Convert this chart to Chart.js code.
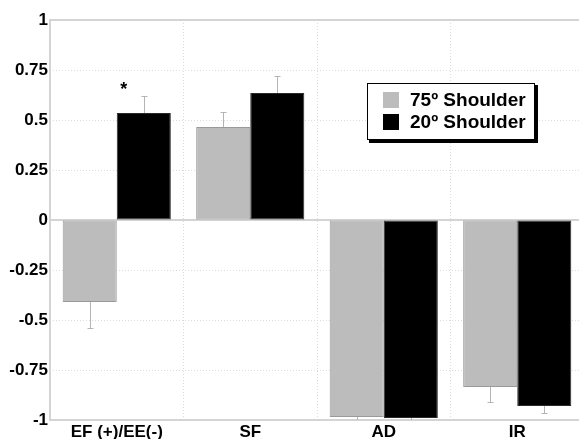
<!DOCTYPE html>
<html>
<head>
<meta charset="utf-8">
<script src="https://cdn.jsdelivr.net/npm/chart.js@4.4.0/dist/chart.umd.min.js"></script>
<style>
html,body{margin:0;padding:0;background:#fff;overflow:hidden;width:579px;height:439px;}
#wrap{width:585px;height:439px;}
</style>
</head>
<body>
<div id="wrap"><canvas id="c" width="585" height="439"></canvas></div>
<script>
const categories = ["EF (+)/EE(-)", "SF", "AD", "IR"];
const seriesLabels = ["75º Shoulder", "20º Shoulder"];
const shoulder75 = [-0.41, 0.465, -0.985, -0.835];
const shoulder20 = [0.535, 0.635, -0.99, -0.93];
const shoulder75Err = [0.13, 0.075, 0.02, 0.075];
const shoulder20Err = [0.085, 0.085, 0.01, 0.035];
const yTicks = [-1, -0.75, -0.5, -0.25, 0, 0.25, 0.5, 0.75, 1];
const significance = [{category: 0, value: 0.665, mark: "*"}];

const FONT = "'Liberation Sans', Arial, sans-serif";

const errorBarPlugin = {
  id: 'errorBars',
  afterDatasetsDraw(chart) {
    const ctx = chart.ctx;
    const y = chart.scales.y;
    const errs = [shoulder75Err, shoulder20Err];
    ctx.save();
    ctx.beginPath();
    ctx.rect(chart.chartArea.left, chart.chartArea.top - 2, chart.chartArea.width, chart.chartArea.height + 2);
    ctx.clip();
    chart.data.datasets.forEach((ds, di) => {
      const meta = chart.getDatasetMeta(di);
      meta.data.forEach((bar, i) => {
        const v = ds.data[i];
        const e = errs[di][i];
        const end = v >= 0 ? v + e : v - e;
        const x = Math.round(bar.x) + 0.5;
        const y0 = y.getPixelForValue(v);
        const y1 = y.getPixelForValue(end);
        ctx.strokeStyle = '#b4b4b4';
        ctx.lineWidth = 1;
        ctx.beginPath();
        ctx.moveTo(x, y0);
        ctx.lineTo(x, y1);
        ctx.moveTo(x - 3, Math.round(y1) + 0.5);
        ctx.lineTo(x + 3, Math.round(y1) + 0.5);
        ctx.stroke();
      });
    });
    ctx.restore();
    ctx.save();
    ctx.fillStyle = '#000';
    ctx.font = "bold 18px " + FONT;
    ctx.textAlign = 'center';
    ctx.textBaseline = 'middle';
    significance.forEach(s => {
      const x = chart.scales.x.getPixelForValue(s.category) + 7;
      const yy = y.getPixelForValue(s.value);
      ctx.fillText(s.mark, x, yy + 3);
    });
    ctx.restore();
  }
};

const framePlugin = {
  id: 'frame',
  beforeDatasetsDraw(chart) {
    const ctx = chart.ctx;
    const a = chart.chartArea;
    const y = chart.scales.y;
    ctx.save();
    ctx.strokeStyle = '#d4d4d4';
    ctx.lineWidth = 2;
    ctx.beginPath();
    ctx.moveTo(a.left, a.top);
    ctx.lineTo(a.right, a.top);
    const z = Math.round(y.getPixelForValue(0));
    ctx.moveTo(a.left, z);
    ctx.lineTo(a.right, z);
    ctx.moveTo(a.left, a.bottom);
    ctx.lineTo(a.right, a.bottom);
    ctx.moveTo(a.left, a.top - 1);
    ctx.lineTo(a.left, a.bottom + 1);
    ctx.stroke();
    ctx.restore();
  }
};

const legendPlugin = {
  id: 'boxLegend',
  afterDraw(chart) {
    const ctx = chart.ctx;
    const bx = 367, by = 83, bw = 168, bh = 57;
    ctx.save();
    ctx.fillStyle = '#000';
    ctx.fillRect(bx + 2, by + 2, bw + 1, bh + 1);
    ctx.fillStyle = '#fff';
    ctx.fillRect(bx, by, bw, bh);
    ctx.strokeStyle = '#000';
    ctx.lineWidth = 1;
    ctx.strokeRect(bx + 0.5, by + 0.5, bw - 1, bh - 1);
    ctx.font = "bold 19px " + FONT;
    ctx.textBaseline = 'middle';
    ctx.textAlign = 'left';
    chart.data.datasets.forEach((ds, i) => {
      const cy = by + 17 + i * 22;
      ctx.fillStyle = ds.backgroundColor;
      ctx.fillRect(bx + 16, cy - 8, 16, 16);
      ctx.fillStyle = '#000';
      ctx.fillText(ds.label, bx + 43, cy + 1);
    });
    ctx.restore();
  }
};

new Chart(document.getElementById('c'), {
  type: 'bar',
  data: {
    labels: categories,
    datasets: [
      {label: seriesLabels[0], data: shoulder75, backgroundColor: '#bcbcbc', borderColor: '#9a9a9a', borderWidth: 1, borderSkipped: false},
      {label: seriesLabels[1], data: shoulder20, backgroundColor: '#000000', borderColor: '#2a2a2a', borderWidth: 1, borderSkipped: false}
    ]
  },
  options: {
    responsive: false,
    animation: false,
    events: [],
    devicePixelRatio: 1,
    layout: {padding: {top: 20, right: 1, bottom: 0, left: 0}},
    plugins: {legend: {display: false}, tooltip: {enabled: false}},
    datasets: {bar: {categoryPercentage: 0.81, barPercentage: 1.0}},
    scales: {
      x: {
        grid: {offset: true, color: '#dcdcdc', lineWidth: 1, drawTicks: false},
        border: {display: false, dash: [1, 2]},
        ticks: {color: '#000', font: {family: FONT, size: 17, weight: 'bold'}, padding: 2, maxRotation: 0, autoSkip: false},
        afterFit(s) { s.height = 19; }
      },
      y: {
        min: -1, max: 1,
        afterBuildTicks(s) { s.ticks = yTicks.map(v => ({value: v})); },
        grid: {color: (c) => (c.tick && (c.tick.value === 0 || c.tick.value === 1 || c.tick.value === -1)) ? 'rgba(0,0,0,0)' : '#dcdcdc', lineWidth: 1, drawTicks: false},
        border: {display: false, dash: [1, 2]},
        ticks: {color: '#000', font: {family: FONT, size: 17, weight: 'bold'}, padding: 2,
          callback: (v) => String(v)},
        afterFit(s) { s.width = 50; }
      }
    }
  },
  plugins: [framePlugin, errorBarPlugin, legendPlugin]
});
</script>
</body>
</html>
